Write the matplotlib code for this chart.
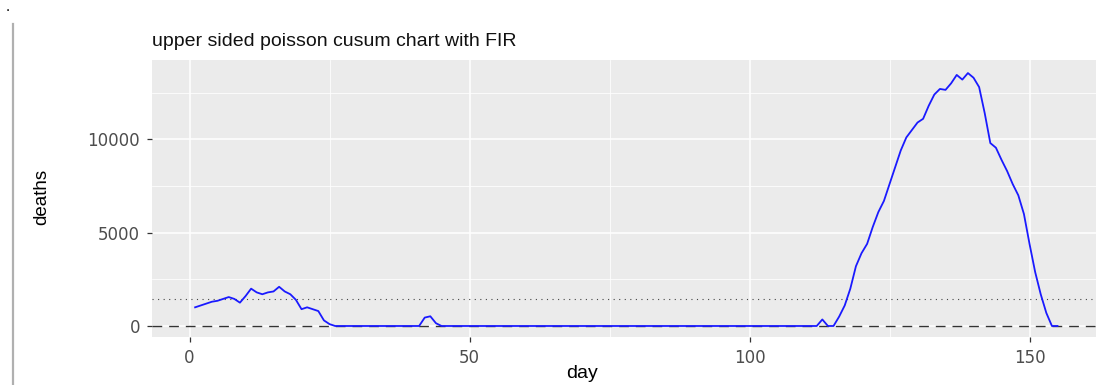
"""Upper sided Poisson CUSUM chart with FIR (ggplot-style look)."""

import matplotlib
matplotlib.use("Agg")
import matplotlib.pyplot as plt
from matplotlib.lines import Line2D
from matplotlib.ticker import FixedLocator

# --- data ---
days = list(range(1, 156))
cusum = (
    [1000, 1100, 1200, 1300, 1350, 1450, 1550, 1450, 1250, 1600,
     2000, 1800, 1700, 1800, 1850, 2100, 1850, 1700, 1400, 900,
     1000, 900, 800, 300, 100]                      # days 1-25
    + [0] * 16                                      # days 26-41
    + [450, 520, 150]                               # days 42-44
    + [0] * 68                                      # days 45-112
    + [350, 0, 0]                                   # days 113-115
    + [500, 1100, 2000, 3200, 3900, 4400, 5300, 6100, 6700, 7600,
       8500, 9400, 10100, 10500, 10900, 11100, 11800, 12400, 12700, 12650,
       13000, 13450, 13200, 13550, 13300, 12800, 11400, 9800, 9550, 8900,
       8300, 7600, 7000, 6000, 4400, 2900, 1700, 700, 0, 0]   # days 116-155
)
limit_h = 1450

x_major = [0, 50, 100, 150]
x_minor = [25, 75, 125]
y_major = [0, 5000, 10000]
y_minor = [2500, 7500, 12500]

W, H = 1096, 385
fig = plt.figure(figsize=(W / 100, H / 100), dpi=100)
plt.rcParams["font.family"] = ["Liberation Sans", "DejaVu Sans"]

# screenshot leftovers: a dot and a grey rule on the left
fig.text(8 / W, 1 - 7 / H, ".", fontsize=11, color="black", ha="center", va="center")
fig.add_artist(Line2D([12.5 / W, 12.5 / W], [0, 1 - 24 / H], color="#b0b0b0", lw=1.6))

left, top, bottom = 152, 60, 337
ax = fig.add_axes([left / W, 1 - bottom / H, (W - left) / W, (bottom - top) / H])
ax.set_facecolor("#EBEBEB")
ax.set_xlim(-6.7, -6.7 + (W - left) / 5.6)
ax.set_ylim(-590, 14250)

ax.xaxis.set_major_locator(FixedLocator(x_major))
ax.xaxis.set_minor_locator(FixedLocator(x_minor))
ax.yaxis.set_major_locator(FixedLocator(y_major))
ax.yaxis.set_minor_locator(FixedLocator(y_minor))
ax.grid(which="major", color="white", lw=1.1)
ax.grid(which="minor", color="white", lw=0.55)
ax.set_axisbelow(True)
for s in ax.spines.values():
    s.set_visible(False)

ax.tick_params(which="major", length=3.6, width=0.9, color="#333333",
               labelcolor="#4D4D4D", labelsize=12, pad=5)
ax.tick_params(which="minor", length=0)
for lab in ax.get_xticklabels() + ax.get_yticklabels():
    lab.set_family("DejaVu Sans")

ax.axhline(limit_h, color="#444444", lw=0.8, dashes=(1, 4))
ax.axhline(0, color="#333333", lw=1.0, dashes=(7, 5))
ax.plot(days, cusum, color="#1a1aff", lw=1.3)

ax.set_xlabel("day", fontsize=14)
ax.set_ylabel("deaths", fontsize=13.5)
ax.xaxis.set_label_coords((582 - left) / (W - left), -(373 - bottom) / (bottom - top))
ax.yaxis.set_label_coords(-(left - 42) / (W - left), (bottom - 197) / (bottom - top))
ax.xaxis.label.set_va("center")
ax.yaxis.label.set_va("center")

fig.text(left / W, 1 - 42 / H, "upper sided poisson cusum chart with FIR",
         fontsize=14, ha="left", va="center", color="#111111")

fig.savefig("out.png", dpi=100)
